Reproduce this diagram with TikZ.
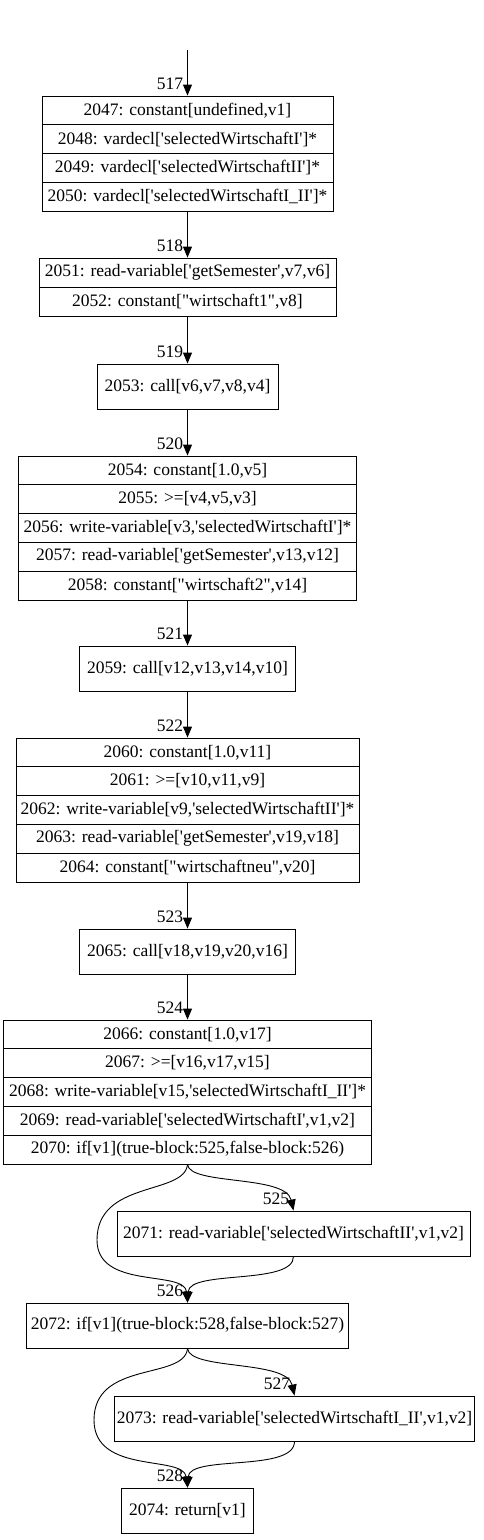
\documentclass[tikz,border=0pt]{standalone}
\usepackage{fontspec}
\setmainfont{Liberation Serif}[Ligatures=TeXOff]
\usetikzlibrary{arrows.meta}
\tikzset{
  row/.style={draw, line width=0.9pt, rectangle, inner sep=0pt, font=\fontsize{17.5}{20}\selectfont, minimum height=28.8pt},
  single/.style={row, minimum height=45pt},
  edge/.style={draw, line width=0.9pt, -{Triangle[length=11pt,width=9pt]}},
  lbl/.style={font=\fontsize{17.5}{20}\selectfont, inner sep=0pt, anchor=base east, xshift=-4pt, yshift=6pt}
}
\begin{document}
\begin{tikzpicture}[x=1pt,y=-1pt]
\useasboundingbox (0,0) rectangle (484,1540);
\coordinate (s) at (187.5,50);
% group 1
\node[row, minimum width=291pt, minimum height=28.75pt] (n2047) at (187.5,110.4) {2047: constant[undefined,v1]};
\node[row, minimum width=291pt, minimum height=28.75pt] (n2048) at (187.5,139.1) {2048: vardecl['selectedWirtschaftI']*};
\node[row, minimum width=291pt, minimum height=28.75pt] (n2049) at (187.5,167.9) {2049: vardecl['selectedWirtschaftII']*};
\node[row, minimum width=291pt, minimum height=28.75pt] (n2050) at (187.5,196.6) {2050: vardecl['selectedWirtschaftI\_II']*};
% group 2
\node[row, minimum width=297pt, minimum height=29pt] (n2051) at (187.5,272.5) {2051: read-variable['getSemester',v7,v6]};
\node[row, minimum width=297pt, minimum height=29pt] (n2052) at (187.5,301.5) {2052: constant["wirtschaft1",v8]};
% group 3
\node[single, minimum width=181pt] (n2053) at (187.5,386.5) {2053: call[v6,v7,v8,v4]};
% group 4
\node[row, minimum width=338pt] (n2054) at (187.5,470.4) {2054: constant[1.0,v5]};
\node[row, minimum width=338pt] (n2055) at (187.5,499.2) {2055: >=[v4,v5,v3]};
\node[row, minimum width=338pt] (n2056) at (187.5,528.0) {2056: write-variable[v3,'selectedWirtschaftI']*};
\node[row, minimum width=338pt] (n2057) at (187.5,556.8) {2057: read-variable['getSemester',v13,v12]};
\node[row, minimum width=338pt] (n2058) at (187.5,585.6) {2058: constant["wirtschaft2",v14]};
% group 5
\node[single, minimum width=216pt] (n2059) at (187.5,668.5) {2059: call[v12,v13,v14,v10]};
% group 6
\node[row, minimum width=343pt] (n2060) at (187.5,752.4) {2060: constant[1.0,v11]};
\node[row, minimum width=343pt] (n2061) at (187.5,781.2) {2061: >=[v10,v11,v9]};
\node[row, minimum width=343pt] (n2062) at (187.5,810.0) {2062: write-variable[v9,'selectedWirtschaftII']*};
\node[row, minimum width=343pt] (n2063) at (187.5,838.8) {2063: read-variable['getSemester',v19,v18]};
\node[row, minimum width=343pt] (n2064) at (187.5,867.6) {2064: constant["wirtschaftneu",v20]};
% group 7
\node[single, minimum width=216pt] (n2065) at (187.5,951.5) {2065: call[v18,v19,v20,v16]};
% group 8
\node[row, minimum width=368pt] (n2066) at (187.5,1034.4) {2066: constant[1.0,v17]};
\node[row, minimum width=368pt] (n2067) at (187.5,1063.2) {2067: >=[v16,v17,v15]};
\node[row, minimum width=368pt] (n2068) at (187.5,1092.0) {2068: write-variable[v15,'selectedWirtschaftI\_II']*};
\node[row, minimum width=368pt] (n2069) at (187.5,1120.8) {2069: read-variable['selectedWirtschaftI',v1,v2]};
\node[row, minimum width=368pt] (n2070) at (187.5,1149.6) {2070: if[v1](true-block:525,false-block:526)};
% group 9
\node[single, minimum width=353pt] (n2071) at (293.5,1233.5) {2071: read-variable['selectedWirtschaftII',v1,v2]};
% group 10
\node[single, minimum width=322pt] (n2072) at (187.5,1325.5) {2072: if[v1](true-block:528,false-block:527)};
% group 11
\node[single, minimum width=360pt] (n2073) at (294.5,1418.5) {2073: read-variable['selectedWirtschaftI\_II',v1,v2]};
% group 12
\node[single, minimum width=132pt] (n2074) at (187.5,1510.5) {2074: return[v1]};
% edges
\draw[edge] (s) -- (n2047.north) node[lbl, pos=1] {517};
\draw[edge] (n2050.south) -- (n2051.north) node[lbl, pos=1] {518};
\draw[edge] (n2052.south) -- (n2053.north) node[lbl, pos=1] {519};
\draw[edge] (n2053.south) -- (n2054.north) node[lbl, pos=1] {520};
\draw[edge] (n2058.south) -- (n2059.north) node[lbl, pos=1] {521};
\draw[edge] (n2059.south) -- (n2060.north) node[lbl, pos=1] {522};
\draw[edge] (n2064.south) -- (n2065.north) node[lbl, pos=1] {523};
\draw[edge] (n2065.south) -- (n2066.north) node[lbl, pos=1] {524};
\draw[edge] (n2070.south) .. controls +(2,21) and +(-8,-36) .. (n2071.north) node[lbl, pos=1] {525};
\coordinate (c1) at (97,1240);
\draw[edge] (n2070.south) .. controls +(-3,31) and (97,1180) .. (c1) .. controls (97,1290) and +(-3,-33) .. (n2072.north) node[lbl, pos=1] {526};
\draw[edge] (n2071.south) .. controls +(0,29) and +(2,-33) .. (n2072.north);
\draw[edge] (n2072.south) .. controls +(2,22) and +(-8,-36) .. (n2073.north) node[lbl, pos=1] {527};
\coordinate (c2) at (94,1420);
\draw[edge] (n2072.south) .. controls +(-3,32) and (94,1360) .. (c2) .. controls (94,1475) and +(-4,-33) .. (n2074.north) node[lbl, pos=1] {528};
\draw[edge] (n2073.south) .. controls +(0,31) and +(2,-33) .. (n2074.north);
\end{tikzpicture}
\end{document}
